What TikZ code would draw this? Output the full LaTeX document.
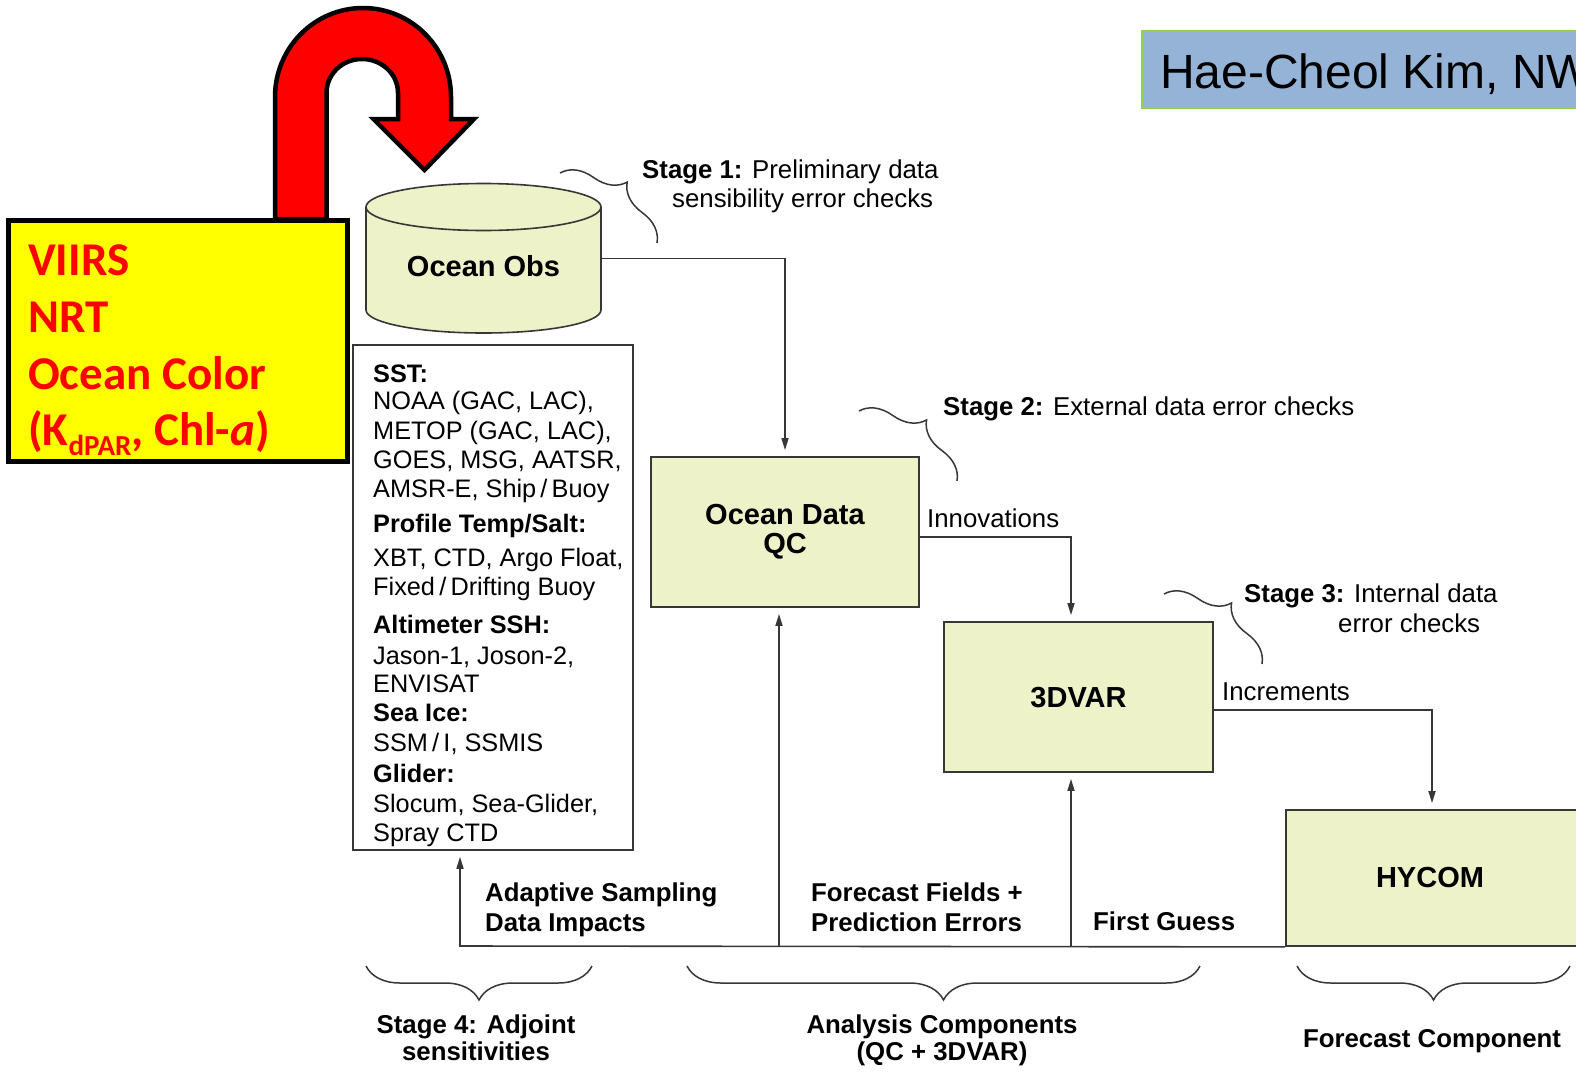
\documentclass[tikz,border=0pt]{standalone}
\usepackage{fontspec}
\setmainfont{Liberation Sans}
\newfontfamily\calib{Carlito}
\usetikzlibrary{arrows.meta,decorations.pathreplacing,calc}
\definecolor{boxfill}{RGB}{238,242,200}
\definecolor{linegray}{RGB}{55,55,55}
\definecolor{titleblue}{RGB}{149,179,215}
\definecolor{titlegreen}{RGB}{146,208,80}
\definecolor{vred}{RGB}{255,0,0}
\definecolor{vyellow}{RGB}{255,255,0}
\begin{document}
\begin{tikzpicture}[x=1pt,y=-1pt,
  conn/.style={draw=linegray, line width=1.6pt, -{Triangle[length=12pt,width=7pt]}, shorten >=6pt},
  box/.style={draw=linegray, line width=1.8pt, fill=boxfill, inner sep=0pt},
  boxt/.style={font=\bfseries\fontsize{29}{31}\selectfont, inner sep=0pt, anchor=base},
  lbl/.style={inner sep=0pt, anchor=base west, font=\fontsize{25.8}{30}\selectfont},
  blbl/.style={inner sep=0pt, anchor=base west, font=\bfseries\fontsize{25.8}{30}\selectfont},
  clbl/.style={inner sep=0pt, anchor=base, font=\bfseries\fontsize{25.8}{30}\selectfont},
  lst/.style={inner sep=0pt, anchor=base west, font=\fontsize{25.3}{29}\selectfont},
  blst/.style={inner sep=0pt, anchor=base west, font=\bfseries\fontsize{25.3}{29}\selectfont},
  vtxt/.style={inner sep=0pt, anchor=base west, text=vred, font=\calib\bfseries\fontsize{47}{56}\selectfont},
  brc/.style={draw=linegray, line width=1.5pt, decorate},
]
\clip (0,0) rectangle (1576,1071);
\fill[white] (0,0) rectangle (1576,1071);

% title
\node[draw=titlegreen, fill=titleblue, line width=2pt, minimum width=460pt, minimum height=77pt, inner sep=0pt, anchor=west] (titlebox) at (1141,69.5) {};
\node[inner sep=0pt, anchor=base west, font=\fontsize{48}{52}\selectfont] (title) at (1160,88) {Hae-Cheol Kim, NW};

% yellow box
\node[draw=black, fill=vyellow, line width=5pt, minimum width=339pt, minimum height=241pt, inner sep=0pt] (viirs) at (177.75,341) {};
\node[vtxt] (v1) at (28,275) {VIIRS};
\node[vtxt] (v2) at (28,332) {NRT};
\node[vtxt] (v3) at (28,389) {Ocean Color};
\node[vtxt] (v4) at (28,445) {(K{\fontsize{29}{29}\selectfont\raisebox{-10pt}{dPAR}}, Chl-\textit{a})};

% red U-turn arrow
\draw[fill=vred, draw=black, line width=4.5pt, line join=miter]
  (275,219) -- (275,97)
  .. controls (275,47.8) and (314.4,8) .. (363,8)
  .. controls (411.6,8) and (451,47.8) .. (451,97)
  -- (451,119) -- (474,119) -- (424.5,170) -- (373.5,119) -- (398,119) -- (398,93)
  .. controls (398,74.2) and (381.9,59) .. (362,59)
  .. controls (342.1,59) and (326.5,74.2) .. (326.5,93)
  -- (326.5,219) -- cycle;

% cylinder Ocean Obs
\path[fill=boxfill, draw=linegray, line width=1.6pt]
  (366,207) -- (366,310)
  .. controls (366,322.7) and (418.6,333) .. (483.5,333)
  .. controls (548.4,333) and (601,322.7) .. (601,310)
  -- (601,207);
\draw[fill=boxfill, draw=linegray, line width=1.6pt] (483.5,207) ellipse (117.5 and 23.5);
\node[minimum width=235pt, minimum height=103pt, inner sep=0pt] (obs) at (483.5,258.5) {};
\node[boxt] (obst) at (483.5,276) {Ocean Obs};

% list box
\node[draw=linegray, line width=1.5pt, minimum width=280pt, minimum height=505pt, inner sep=0pt] (list) at (493,597.5) {};
\node[blst] (l1) at (373,382) {SST:};
\node[lst] (l2) at (373,409) {NOAA (GAC, LAC),};
\node[lst] (l3) at (373,439) {METOP (GAC, LAC),};
\node[lst] (l4) at (373,468) {GOES, MSG, AATSR,};
\node[lst] (l5) at (373,497) {AMSR-E, Ship\,/\,Buoy};
\node[blst] (l6) at (373,532) {Profile Temp/Salt:};
\node[lst] (l7) at (373,566) {XBT, CTD, Argo Float,};
\node[lst] (l8) at (373,595) {Fixed\,/\,Drifting Buoy};
\node[blst] (l9) at (373,633) {Altimeter SSH:};
\node[lst] (l10) at (373,664) {Jason-1, Joson-2,};
\node[lst] (l11) at (373,692) {ENVISAT};
\node[blst] (l12) at (373,721) {Sea Ice:};
\node[lst] (l13) at (373,751) {SSM\,/\,I, SSMIS};
\node[blst] (l14) at (373,782) {Glider:};
\node[lst] (l15) at (373,812) {Slocum, Sea-Glider,};
\node[lst] (l16) at (373,841) {Spray CTD};

% boxes
\node[box, minimum width=268pt, minimum height=150pt] (qc) at (785,532) {};
\node[boxt] (qct1) at (785,524) {Ocean Data};
\node[boxt] (qct2) at (785,553) {QC};
\node[box, minimum width=269pt, minimum height=150pt] (dvar) at (1078.5,697) {};
\node[boxt] (dvart) at (1078.5,707) {3DVAR};
\node[box, minimum width=292pt, minimum height=136pt] (hycom) at (1432,878) {};
\node[boxt] (hycomt) at (1430,887) {HYCOM};

% connectors
\draw[conn] (obs.east) -| (qc.north);
\draw[conn] ([yshift=-5pt]qc.east) -| ([xshift=-7.5pt]dvar.north);
\draw[conn] ([yshift=-13pt]dvar.east) -| (hycom.north);
\coordinate (bl) at (460,946);
\coordinate (f1) at (779,946);
\coordinate (f2) at (1071,946);
\draw[conn] (hycom.south west) -- (bl) -- (bl |- list.south);
\draw[conn] (f1) -- (f1 |- qc.south);
\draw[conn] (f2) -- (f2 |- dvar.south);

% connector labels
\node[lbl] (inn) at (927,527) {Innovations};
\node[lbl] (inc) at (1222,700) {Increments};
\node[blbl] (ad1) at (485,901) {Adaptive Sampling};
\node[blbl] (ad2) at (485,931) {Data Impacts};
\node[blbl] (ff1) at (811,901) {Forecast Fields +};
\node[blbl] (ff2) at (811,931) {Prediction Errors};
\node[blbl] (fg) at (1093,930) {First Guess};

% stage labels
\node[lbl] (s1a) at (642,178) {\textbf{Stage 1:} Preliminary data};
\node[lbl] (s1b) at (672,207) {sensibility error checks};
\node[lbl] (s2) at (943,415) {\textbf{Stage 2:} External data error checks};
\node[lbl] (s3a) at (1244,602) {\textbf{Stage 3:} Internal data};
\node[lbl] (s3b) at (1338,632) {error checks};

% oblique braces
\draw[brc, decoration={brace, amplitude=32pt}] (560,173) -- (657,243);
\draw[brc, decoration={brace, amplitude=32pt}] (859,411) -- (957,481);
\draw[brc, decoration={brace, amplitude=32pt}] (1164,594) -- (1262,664);

% bottom braces
\draw[brc, decoration={brace, mirror, amplitude=34pt}] (366,966) -- (592,966);
\draw[brc, decoration={brace, mirror, amplitude=34pt}] (687,966) -- (1200,966);
\draw[brc, decoration={brace, mirror, amplitude=34pt}] (1297,966) -- (1570,966);

\node[clbl] (b4a) at (476,1033) {Stage 4: Adjoint};
\node[clbl] (b4b) at (476,1060) {sensitivities};
\node[clbl] (ba1) at (942,1033) {Analysis Components};
\node[clbl] (ba2) at (942,1060) {(QC + 3DVAR)};
\node[clbl] (bf) at (1432,1047) {Forecast Component};
\end{tikzpicture}
\end{document}
